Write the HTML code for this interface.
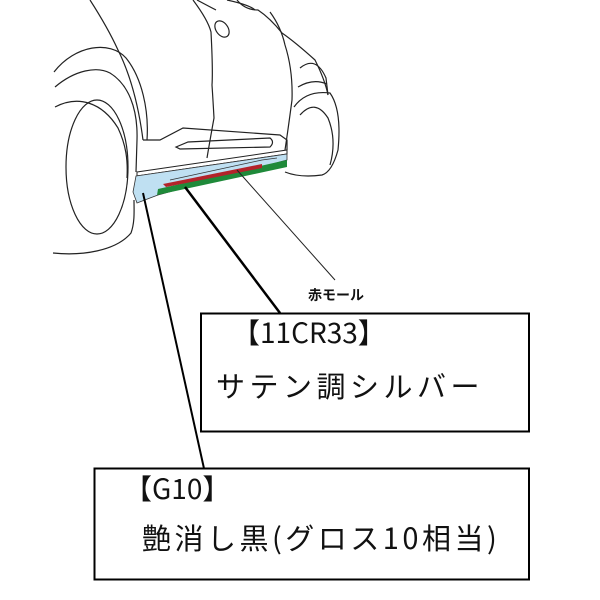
<!DOCTYPE html>
<html><head><meta charset="utf-8"><style>
html,body{margin:0;padding:0;background:#fff;}
body{width:600px;height:600px;position:relative;overflow:hidden;font-family:"Noto Sans CJK JP","Liberation Sans",sans-serif;}
.t{position:absolute;white-space:nowrap;color:#111;line-height:1;}
</style></head><body>
<svg width="600" height="600" style="position:absolute;left:0;top:0">
<g fill="none" stroke="#222" stroke-width="1.2">
<path d="M90,0 Q108,28 118,50 Q136,86 143,140"/>
<path d="M54,72 C75,45 110,40 126,58 C142,78 149,110 147,140"/>
<path d="M55,87 C75,70 97,66 110,73 C128,84 138,108 137,140 L136,172"/>
<path d="M55,107 C78,95 102,102 118,128 C126,145 128,160 127,178"/>
<ellipse cx="97" cy="167" rx="31" ry="67"/>
<path d="M53,253 C82,256 116,251 131,233 C135,222 134,210 134,200"/>
<path d="M193,0 Q208,20 211,32 Q213,70 212,85 Q213,100 214,118 Q210,140 207,158"/>
<ellipse cx="222" cy="29" rx="6" ry="9" transform="rotate(-35 222 29)"/>
<path d="M197,0 Q212,8 216,10"/>
<path d="M237,0 Q245,10 258,10 Q270,18 282,33 Q295,42 315,60 Q325,80 328,95"/>
<path d="M227,0 Q250,5 255,10"/>
<path d="M270,12 Q281,27 285,45 Q293,70 292,100 Q288,130 285,150"/>
<path d="M300,68 Q316,55 326,78 L328,95"/>
<path d="M298,87 Q313,78 327,84"/>
<path d="M294,107 Q306,90 330,93 Q342,110 338,150 Q332,172 322,175 Q300,178 285,172"/>
<path d="M300,115 Q315,98 328,118 Q337,140 330,165"/>
<path d="M143,140 L160,140 L183,128 L280,135 L287,140 L287,150"/>
<path d="M176,147 L188,142 L270,138 Q275,142 270,147 L180,149 Z"/>
</g>
<polygon points="137,172 287,150 287,154 137,176" fill="#fff" stroke="#222" stroke-width="1"/>
<polygon points="136,176 287,154 287,160 158,195 150,198 137,203 133,192" fill="#bfe0f2" stroke="#333" stroke-width="0.8"/>
<polygon points="158,189 287,160 287,167 157,195" fill="#1f8a3a"/>
<polygon points="163,184 262,164 262,168 166,187" fill="#b3232a"/>
<path d="M170,180 L262,160 L277,158" stroke="#333" stroke-width="0.8" fill="none"/>
<line x1="143" y1="193" x2="205" y2="473" stroke="#000" stroke-width="2"/>
<line x1="185" y1="187" x2="280" y2="313" stroke="#000" stroke-width="2.5"/>
<line x1="237" y1="170" x2="335" y2="280" stroke="#222" stroke-width="1"/>
<rect x="201" y="313.5" width="328" height="118" fill="#fff" stroke="#000" stroke-width="2"/>
<rect x="94.5" y="468.5" width="434.5" height="111" fill="#fff" stroke="#000" stroke-width="2"/>
</svg>
<div class="t" style="left:308px;top:288px;font-size:14px;font-weight:bold;">赤モール</div>
<div class="t" style="left:232px;top:318px;font-size:28px;">【11CR33】</div>
<div class="t" style="left:216px;top:371px;font-size:29px;letter-spacing:4.5px;">サテン調シルバー</div>
<div class="t" style="left:124px;top:474px;font-size:28px;">【G10】</div>
<div class="t" style="left:142px;top:523px;font-size:29px;letter-spacing:3.5px;">艶消し黒(グロス10相当)</div>
</body></html>
